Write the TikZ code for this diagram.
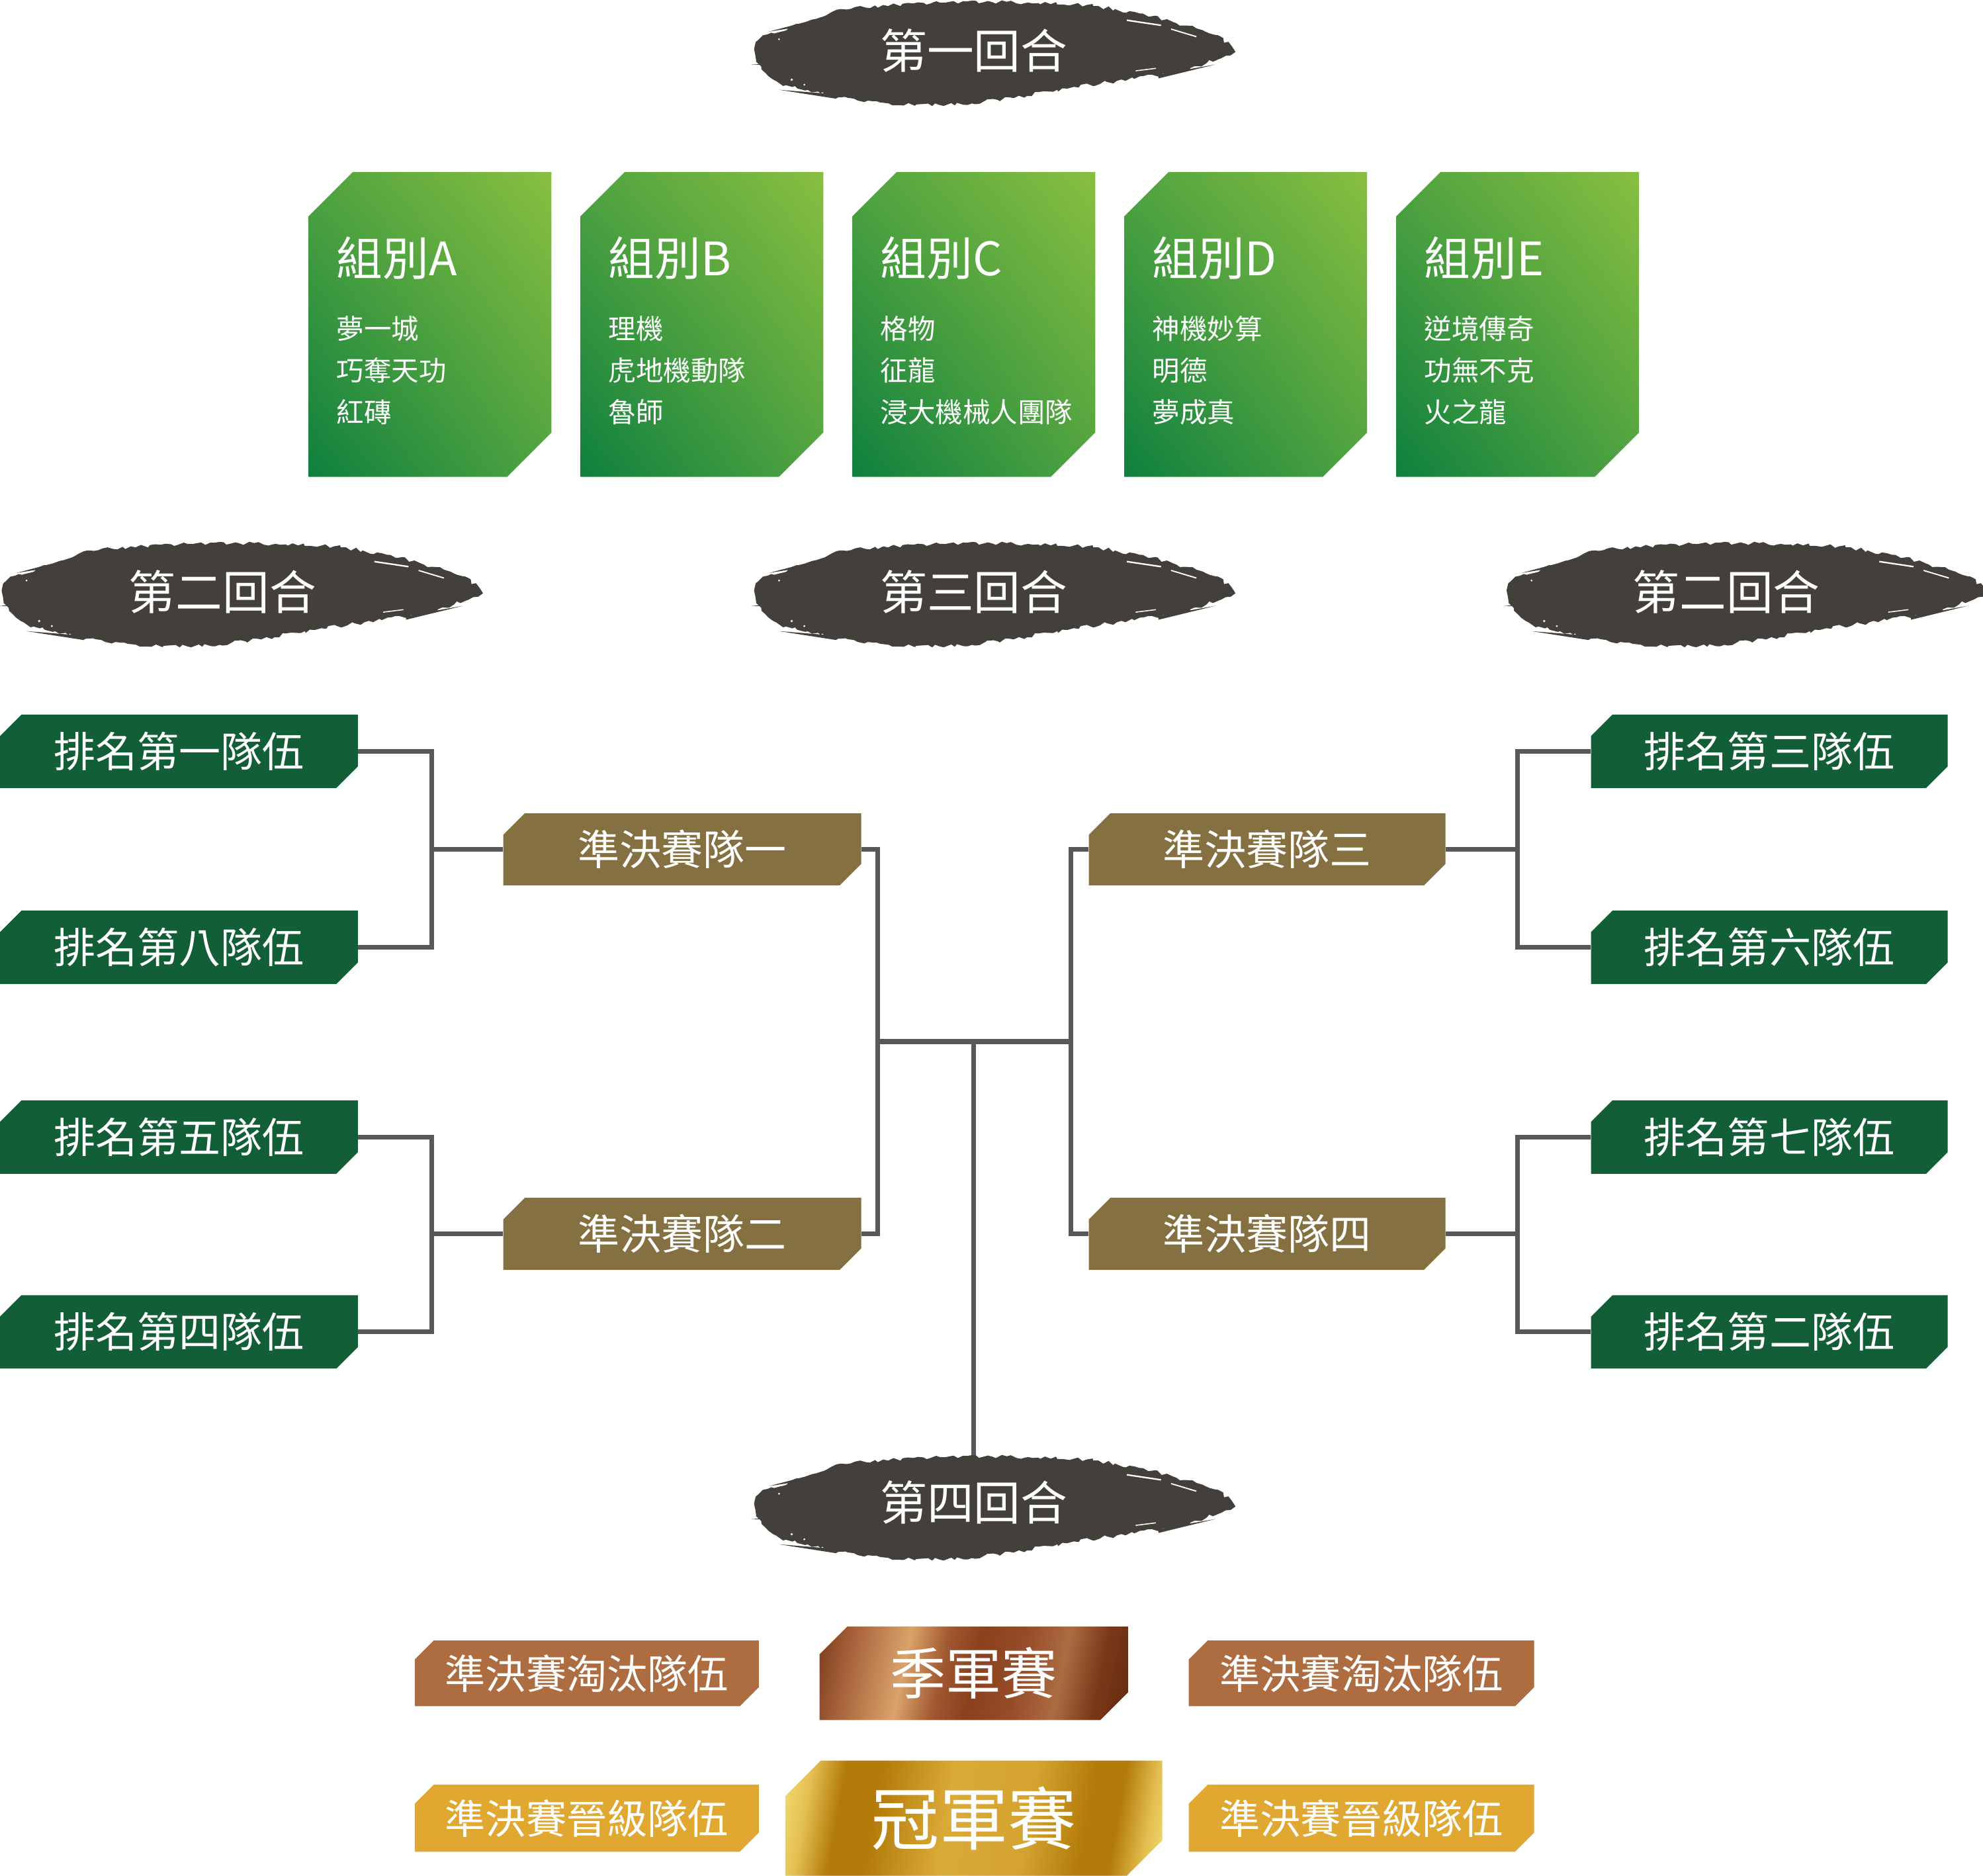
\documentclass[tikz,border=0pt]{standalone}
\usepackage{fontspec}
\setmainfont{Noto Sans CJK TC}
\usetikzlibrary{decorations.pathmorphing,shadings}

\definecolor{brushc}{RGB}{67,63,58}
\definecolor{rankc}{RGB}{17,94,55}
\definecolor{semic}{RGB}{133,112,66}
\definecolor{connc}{RGB}{88,88,90}
\definecolor{elimc}{RGB}{174,108,65}
\definecolor{advc}{RGB}{224,168,48}
\definecolor{gdark}{RGB}{14,128,62}
\definecolor{glight}{RGB}{136,191,64}
\definecolor{gmid}{RGB}{80,163,64}
\definecolor{cpa}{RGB}{122,60,28}
\definecolor{cpb}{RGB}{168,100,60}
\definecolor{cpc}{RGB}{218,163,106}
\definecolor{cpd}{RGB}{160,88,48}
\definecolor{cpe}{RGB}{140,64,30}
\definecolor{cpf}{RGB}{150,76,40}
\definecolor{cpg}{RGB}{172,108,66}
\definecolor{cph}{RGB}{122,56,24}
\definecolor{cpi}{RGB}{100,42,15}
\definecolor{gd1}{RGB}{246,226,122}
\definecolor{gd1b}{RGB}{228,192,82}
\definecolor{gd2}{RGB}{178,122,8}
\definecolor{gd3}{RGB}{218,170,55}
\definecolor{gd4}{RGB}{212,163,48}

\pgfdeclarehorizontalshading{copperS}{100bp}{color(0bp)=(cpa); color(20bp)=(cpa); color(27bp)=(cpb); color(37bp)=(cpc); color(44bp)=(cpd); color(50bp)=(cpe); color(58bp)=(cpf); color(66bp)=(cpg); color(73bp)=(cph); color(80bp)=(cpi); color(100bp)=(cpi)}
\pgfdeclarehorizontalshading{goldS}{100bp}{color(0bp)=(gd1); color(20bp)=(gd1); color(25bp)=(gd1b); color(30bp)=(gd2); color(35bp)=(gd2); color(46bp)=(gd3); color(58bp)=(gd4); color(67bp)=(gd2); color(71bp)=(gd2); color(76bp)=(gd1b); color(80bp)=(gd1); color(100bp)=(gd1)}

\newcommand\cutbox[8][]{%
  \path[#1] ({#3},{#4+#7}) -- ({#3+#7},{#4}) -- ({#5},{#4}) -- ({#5},{#6-#7}) -- ({#5-#7},{#6}) -- ({#3},{#6}) -- cycle;
  \node[inner sep=0pt, text=white, minimum width={#5-#3}, minimum height={#6-#4}] (#2) at ({(#3+#5)/2},{(#4+#6)/2}) {#8};
}

\newcommand\rankfont{\fontsize{33pt}{38pt}\selectfont}
\newcommand\brushfont{\fontsize{37pt}{42pt}\selectfont}
\newcommand\titlefont{\fontsize{36.5pt}{40pt}\selectfont}
\newcommand\namefont{\fontsize{21.7pt}{33pt}\selectfont}
\newcommand\smallfont{\fontsize{32pt}{38pt}\selectfont}

\tikzset{
  conn/.style={draw=connc, line width=3.7pt, line join=miter},
  brushpic/.pic={
    \pgfmathsetseed{11}
    \fill[brushc, decorate, decoration={random steps, segment length=3.5pt, amplitude=1.6pt}]
      plot[smooth cycle, tension=0.6] coordinates {(-186,-9) (-148,-24) (-113,-34) (-43,-39) (27,-39) (73,-37) (120,-29) (167,-16) (188,-4) (183,3) (143,16) (97,23) (50,30) (3,38) (-43,42) (-90,40) (-137,33) (-172,23) (-188,7)};
    \fill[brushc] (-190,-1) -- (-150,-8) -- (-150,-4) -- cycle;
    \fill[brushc] (-192,10) -- (-160,8) -- (-160,11) -- cycle;
    \fill[brushc] (-178,-16) -- (-140,-26) -- (-140,-22) -- cycle;
    \fill[brushc] (-170,30) -- (-120,34) -- (-125,37) -- cycle;
    \fill[brushc] (190,-2) -- (150,-14) -- (150,-8) -- cycle;
    \fill[brushc] (175,10) -- (130,18) -- (130,21) -- cycle;
    \fill[brushc] (180,-12) -- (140,-22) -- (140,-19) -- cycle;
    \draw[white, line width=1.2pt] (105,-25) -- (132,-21);
    \draw[white, line width=1pt] (140,-18) -- (160,-12);
    \draw[white, line width=0.8pt] (112,15) -- (128,13);
    \fill[white] (-160,22) circle (1pt) (-150,26) circle (0.8pt) (-170,-10) circle (0.8pt);
  }
}

\begin{document}
\begin{tikzpicture}[x=1pt, y=-1pt]
\useasboundingbox (0,0) rectangle (1568,1483);

% ---------- brushes (titles) ----------
\pic at (786,41) {brushpic};
\node[text=white, font=\brushfont] (t1) at (770,40) {第一回合};
\pic at (191,469) {brushpic};
\node[text=white, font=\brushfont] (t2l) at (176,468) {第二回合};
\pic at (786,469) {brushpic};
\node[text=white, font=\brushfont] (t3) at (770,468) {第三回合};
\pic at (1381,469) {brushpic};
\node[text=white, font=\brushfont] (t2r) at (1365,468) {第二回合};

% ---------- group boxes ----------
\foreach \gx/\gl/\na/\nb/\nc [count=\i] in {244/A/夢一城/巧奪天功/紅磚, 459/B/理機/虎地機動隊/魯師, 674/C/格物/征龍/浸大機械人團隊, 889/D/神機妙算/明德/夢成真, 1104/E/逆境傳奇/功無不克/火之龍}{
  \cutbox[lower left=gdark, upper right=glight, upper left=gmid, lower right=gmid]{g\i}{\gx}{136}{\gx+192}{377}{35}{}
  \node[anchor=west, inner sep=0pt, text=white, font=\titlefont] (g\i t) at (\gx+22,204) {組別\gl};
  \node[anchor=west, inner sep=0pt, text=white, font=\namefont] (g\i a) at (\gx+22,260) {\na};
  \node[anchor=west, inner sep=0pt, text=white, font=\namefont] (g\i b) at (\gx+22,293) {\nb};
  \node[anchor=west, inner sep=0pt, text=white, font=\namefont] (g\i c) at (\gx+22,326) {\nc};
}

% ---------- rank boxes ----------
\cutbox[fill=rankc]{r1}{0}{565}{283}{623}{17}{\rankfont 排名第一隊伍}
\cutbox[fill=rankc]{r8}{0}{720}{283}{778}{17}{\rankfont 排名第八隊伍}
\cutbox[fill=rankc]{r5}{0}{870}{283}{928}{17}{\rankfont 排名第五隊伍}
\cutbox[fill=rankc]{r4}{0}{1024}{283}{1082}{17}{\rankfont 排名第四隊伍}
\cutbox[fill=rankc]{r3}{1258}{565}{1540}{623}{17}{\rankfont 排名第三隊伍}
\cutbox[fill=rankc]{r6}{1258}{720}{1540}{778}{17}{\rankfont 排名第六隊伍}
\cutbox[fill=rankc]{r7}{1258}{870}{1540}{928}{17}{\rankfont 排名第七隊伍}
\cutbox[fill=rankc]{r2}{1258}{1024}{1540}{1082}{17}{\rankfont 排名第二隊伍}

% ---------- semi-final boxes ----------
\cutbox[fill=semic]{s1}{398}{643}{681}{700}{17}{\rankfont 準決賽隊一}
\cutbox[fill=semic]{s2}{398}{947}{681}{1004}{17}{\rankfont 準決賽隊二}
\cutbox[fill=semic]{s3}{861}{643}{1143}{700}{17}{\rankfont 準決賽隊三}
\cutbox[fill=semic]{s4}{861}{947}{1143}{1004}{17}{\rankfont 準決賽隊四}

% ---------- connectors ----------
\draw[conn] (r1.east) -- ++(58,0) |- (r8.east);
\draw[conn] (s1.west) -- ++(-57,0);
\draw[conn] (r5.east) -- ++(58,0) |- (r4.east);
\draw[conn] (s2.west) -- ++(-57,0);
\draw[conn] (r3.west) -- ++(-58,0) |- (r6.west);
\draw[conn] (s3.east) -- ++(57,0);
\draw[conn] (r7.west) -- ++(-58,0) |- (r2.west);
\draw[conn] (s4.east) -- ++(57,0);
\draw[conn] (s1.east) -- ++(13,0) |- (s2.east);
\draw[conn] (s3.west) -- ++(-14,0) |- (s4.west);
\coordinate (jl) at (694,823.5);
\coordinate (jr) at (847,823.5);
\coordinate (jm) at (770,823.5);
\coordinate (b4) at (770,1185);
\draw[conn] (jl) -- (jr);
\draw[conn] (jm) -- (b4);

\pic at (786,1191) {brushpic};
\node[text=white, font=\brushfont] (t4) at (770,1188) {第四回合};

% ---------- finals ----------
\cutbox[fill=elimc]{e1}{328}{1297}{600}{1349}{15}{\smallfont 準決賽淘汰隊伍}
\cutbox[fill=elimc]{e2}{940}{1297}{1213}{1349}{15}{\smallfont 準決賽淘汰隊伍}
\cutbox[fill=advc]{q1}{328}{1411}{600}{1464}{15}{\smallfont 準決賽晉級隊伍}
\cutbox[fill=advc]{q2}{940}{1411}{1213}{1464}{15}{\smallfont 準決賽晉級隊伍}
\cutbox[shade, shading=copperS, shading angle=-12]{third}{648}{1286}{892}{1360}{22}{\fontsize{44pt}{50pt}\selectfont 季軍賽}
\cutbox[shade, shading=goldS, shading angle=-10]{champ}{621}{1392}{919}{1483}{28}{\fontsize{54pt}{60pt}\selectfont 冠軍賽}
\end{tikzpicture}
\end{document}
